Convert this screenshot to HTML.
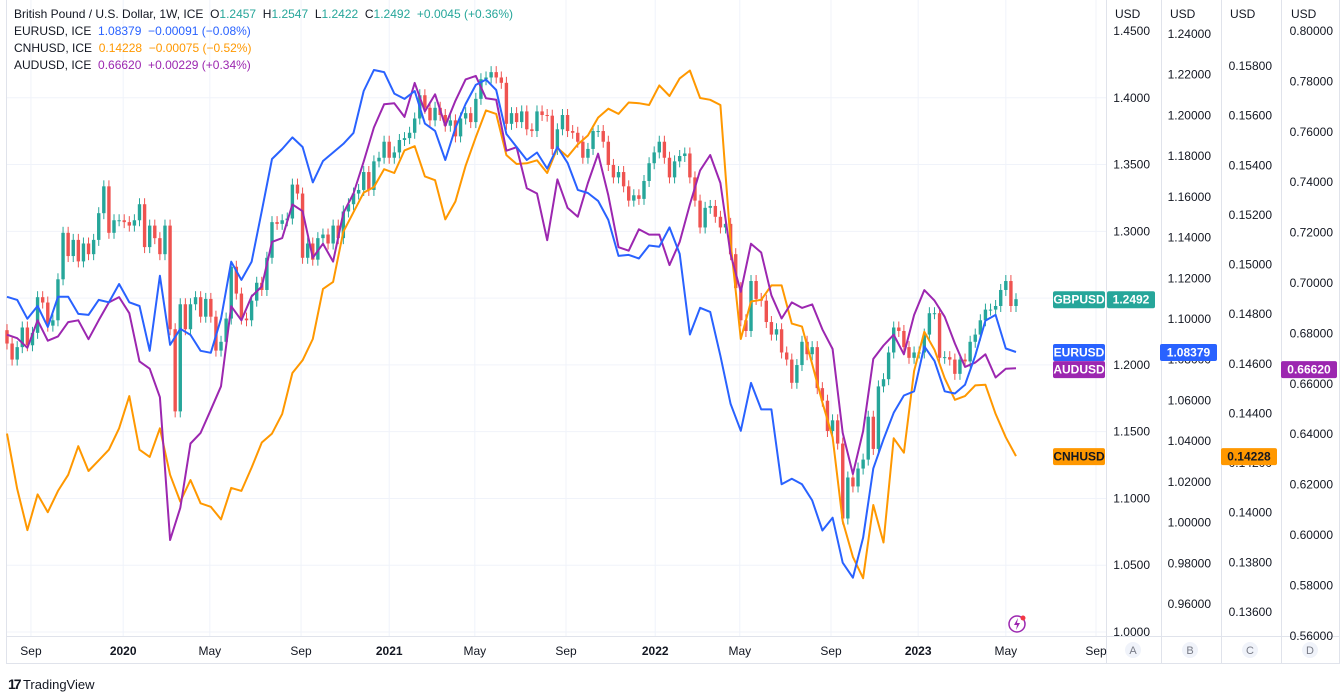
<!DOCTYPE html>
<html><head><meta charset="utf-8">
<style>
html,body{margin:0;padding:0;background:#fff;width:1344px;height:692px;overflow:hidden;font-family:"Liberation Sans",sans-serif;}
svg{position:absolute;left:0;top:0;}
.lg{position:absolute;left:14px;font-size:12px;color:#131722;white-space:pre;}
</style></head><body>
<svg id="c" width="1344" height="692"></svg>
<div class="lg" style="top:7px">British Pound / U.S. Dollar, 1W, ICE  O<span style="color:#26a69a">1.2457</span>  H<span style="color:#26a69a">1.2547</span>  L<span style="color:#26a69a">1.2422</span>  C<span style="color:#26a69a">1.2492</span>  <span style="color:#26a69a">+0.0045 (+0.36%)</span></div>
<div class="lg" style="top:24px">EURUSD, ICE  <span style="color:#2962ff">1.08379  −0.00091 (−0.08%)</span></div>
<div class="lg" style="top:41px">CNHUSD, ICE  <span style="color:#ff9800">0.14228  −0.00075 (−0.52%)</span></div>
<div class="lg" style="top:58px">AUDUSD, ICE  <span style="color:#9c27b0">0.66620  +0.00229 (+0.34%)</span></div>
<div style="position:absolute;left:8px;top:676px;font-size:13px;color:#131722"><b style="font-size:14px;letter-spacing:-2px">17</b> TradingView</div>
<script>
const gbpOpen0 = 1.2260;
const gbpClose = [1.2160,1.2040,1.2133,1.2280,1.2147,1.2240,1.2507,1.2467,1.2294,1.2334,1.2641,1.2989,1.2815,1.2936,1.2775,1.2909,1.2829,1.2936,1.3136,1.3337,1.2989,1.3083,1.3083,1.3069,1.3043,1.3083,1.3203,1.2882,1.3043,1.2949,1.2829,1.3043,1.2267,1.1652,1.2454,1.2267,1.2454,1.2507,1.2361,1.2494,1.2361,1.2107,1.2173,1.2347,1.2735,1.2534,1.2347,1.2334,1.2481,1.2615,1.2561,1.2802,1.3069,
1.3056,1.3083,1.3096,1.3350,1.3283,1.2802,1.2909,1.2788,1.2949,1.2976,1.2909,1.3043,1.2949,1.3149,1.3203,1.3283,1.3310,1.3444,1.3310,1.3524,1.3551,1.3671,1.3551,1.3591,1.3684,1.3698,1.3738,1.3845,1.4019,1.3925,1.3831,1.3925,1.3871,1.3791,1.3831,1.3711,1.3845,1.3885,1.3818,1.3992,1.4139,1.4152,1.4192,1.4152,1.4112,1.3805,1.3885,1.3818,1.3898,1.3764,1.3751,1.3898,1.3871,1.3866,
1.3617,1.3764,1.3871,1.3751,1.3738,1.3671,1.3551,1.3617,1.3751,1.3751,1.3671,1.3497,1.3404,1.3444,1.3337,1.3230,1.3270,1.3243,1.3377,1.3510,1.3591,1.3671,1.3551,1.3404,1.3524,1.3564,1.3583,1.3404,1.3230,1.3029,1.3176,1.3190,1.3109,1.3029,1.3056,1.2829,1.2575,1.2334,1.2254,1.2628,1.2494,1.2481,1.2321,1.2227,1.2267,1.2093,1.2040,1.1866,1.1999,1.2173,1.2080,1.2133,1.1826,
1.1732,1.1505,1.1585,1.1411,1.0850,1.1157,1.1090,1.1224,1.1291,1.1612,1.1371,1.1839,1.1893,1.2093,1.2280,1.2254,1.2133,1.2053,1.2093,1.2093,1.2227,1.2387,1.2387,1.2053,1.2058,1.2040,1.1933,1.2040,1.2026,1.2173,1.2227,1.2334,1.2414,1.2414,1.2441,1.2561,1.2628,1.2441,1.2492];
const eurValues = [1.1109,1.1094,1.1001,1.1064,1.0961,1.1109,1.1109,1.1025,1.1020,1.1094,1.1082,1.1172,1.1082,1.1064,1.0844,1.1212,1.0873,1.0952,1.0922,1.0844,1.0834,1.1001,1.1281,1.1192,1.1281,1.1531,1.1786,1.1835,1.1892,1.1845,1.1671,1.1776,1.1818,1.1860,1.1914,1.2120,1.2223,1.2213,1.2107,1.2081,1.2120,1.1960,1.1924,1.1781,1.1938,1.2056,1.2150,1.2176,1.2125,1.1909,1.1845,1.1781,1.1818,1.1739,1.1845,1.1767,1.1634,1.1619,1.1580,1.1487,1.1310,1.1315,1.1297,1.1361,1.1355,1.1450,1.1320,1.0924,1.1055,1.1035,1.0819,1.0583,1.0451,1.0686,1.0556,1.0556,1.0188,1.0215,1.0188,1.0109,0.9961,1.0024,0.9803,0.9729,0.9925,1.0266,1.0409,1.0539,1.0624,1.0645,1.0866,1.0794,1.0645,1.0634,1.0677,1.0819,1.0992,1.1020,1.0855,1.0838];
const cnhValues = [0.14319,0.14096,0.13930,0.14074,0.14002,0.14088,0.14153,0.14268,0.14168,0.14211,0.14254,0.14340,0.14470,0.14254,0.14225,0.14340,0.14153,0.14045,0.14132,0.14038,0.14024,0.13973,0.14100,0.14088,0.14182,0.14283,0.14319,0.14398,0.14563,0.14614,0.14700,0.14902,0.14930,0.15132,0.15211,0.15290,0.15312,0.15384,0.15369,0.15460,0.15477,0.15355,0.15340,0.15182,0.15254,0.15398,0.15513,0.15621,0.15607,0.15441,0.15405,0.15408,0.15420,0.15369,0.15470,0.15434,0.15484,0.15520,0.15592,0.15628,0.15607,0.15653,0.15650,0.15643,0.15722,0.15679,0.15750,0.15782,0.15671,0.15664,0.15643,0.15089,0.14700,0.14851,0.14858,0.14916,0.14916,0.14762,0.14750,0.14599,0.14444,0.14304,0.13966,0.13822,0.13736,0.14031,0.13880,0.14300,0.14242,0.14571,0.14729,0.14657,0.14542,0.14455,0.14470,0.14513,0.14516,0.14398,0.14304,0.14228];
const audValues = [0.6795,0.6781,0.6743,0.6852,0.6771,0.6788,0.6845,0.6852,0.6777,0.6852,0.6923,0.6944,0.6880,0.6689,0.6660,0.6547,0.5980,0.6108,0.6363,0.6405,0.6497,0.6590,0.6908,0.6852,0.6947,0.6986,0.7163,0.7178,0.7312,0.7285,0.7100,0.7156,0.7085,0.7277,0.7355,0.7482,0.7617,0.7709,0.7713,0.7659,0.7794,0.7681,0.7749,0.7624,0.7723,0.7808,0.7822,0.7733,0.7727,0.7525,0.7539,0.7376,0.7355,0.7170,0.7411,0.7298,0.7263,0.7397,0.7513,0.7348,0.7142,0.7128,0.7213,0.7192,0.7192,0.7071,0.7163,0.7312,0.7447,0.7508,0.7397,0.7114,0.6965,0.7156,0.7121,0.6951,0.6859,0.6923,0.6901,0.6915,0.6816,0.6738,0.6405,0.6242,0.6412,0.6699,0.6752,0.6795,0.6717,0.6873,0.6972,0.6930,0.6866,0.6760,0.6667,0.6684,0.6717,0.6625,0.6660,0.6662];
const gbpTicks = [1.45,1.40,1.35,1.30,1.25,1.20,1.15,1.10,1.05,1.00];
const eurTicks = [1.24,1.22,1.20,1.18,1.16,1.14,1.12,1.10,1.08,1.06,1.04,1.02,1.00,0.98,0.96];
const cnhTicks = [0.158,0.156,0.154,0.152,0.150,0.148,0.146,0.144,0.142,0.140,0.138,0.136];
const audTicks = [0.80,0.78,0.76,0.74,0.72,0.70,0.68,0.66,0.64,0.62,0.60,0.58,0.56];
const timeLabels = ["Sep","2020","May","Sep","2021","May","Sep","2022","May","Sep","2023","May","Sep"];
const timeWeeks = [4.7,22.8,39.8,57.7,75,91.8,109.7,127.2,143.8,161.7,178.8,196,213.7];

const xOf = i => 7 + i*5.096;
const gbpY = v => 31 + (1.45 - v)*1335.6;
const eurY = v => 34 + (1.24 - v)*2035.7;
const cnhY = v => 66 + (0.158 - v)*24818;
const audY = v => 283 + (0.70 - v)*2520;
const lineWeek = (k, n) => k === n-1 ? 198 : 2*k;

const NS = "http://www.w3.org/2000/svg";
const svg = document.getElementById('c');
function mk(tag, attrs, parent){ const e=document.createElementNS(NS,tag); for(const k in attrs) e.setAttribute(k,attrs[k]); (parent||svg).appendChild(e); return e; }

// grid
const grid = mk('g',{});


gbpTicks.forEach(v=>{ if(v<1.45){ const l=mk('line',{x1:7,x2:1106,y1:gbpY(v),y2:gbpY(v),stroke:'#f0f3fa','stroke-width':1},grid);
 
  }});
timeWeeks.forEach(w=>{ const l=mk('line',{x1:xOf(w),x2:xOf(w),y1:0,y2:636,stroke:'#f0f3fa','stroke-width':1},grid);
 
  });

// frame
mk('line',{x1:6.5,x2:6.5,y1:0,y2:663,stroke:'#e0e3eb'});
mk('line',{x1:1106.5,x2:1106.5,y1:0,y2:663,stroke:'#e0e3eb'});
[1161.5,1221.5,1281.5,1339.5].forEach(x=>mk('line',{x1:x,x2:x,y1:0,y2:663,stroke:'#e0e3eb'}));
mk('line',{x1:6,x2:1340,y1:636.5,y2:636.5,stroke:'#e0e3eb'});
mk('line',{x1:6,x2:1340,y1:663.5,y2:663.5,stroke:'#e0e3eb'});

// candles
const cg = mk('g',{});


gbpClose.forEach((c,i)=>{
  const o = i===0 ? gbpOpen0 : gbpClose[i-1];
  const up = c>=o, col = up?'#26a69a':'#ef5350';
  const x = xOf(i), y1=gbpY(Math.max(o,c)), y2=gbpY(Math.min(o,c));
  const w = mk('line',{x1:x,x2:x,y1:y1-6,y2:y2+6,stroke:col,'stroke-width':1},cg);
  
  
  const b = mk('rect',{x:x-1.7,y:y1,width:3.4,height:Math.max(1,y2-y1),fill:col},cg);
  
  
});

function drawLine(vals, yf, col, name){
  const pts = vals.map((v,k)=>xOf(lineWeek(k,vals.length)).toFixed(1)+','+yf(v).toFixed(1)).join(' ');
  const p = mk('polyline',{points:pts,fill:'none',stroke:col,'stroke-width':2,'stroke-linejoin':'round'});
  
  
}
drawLine(cnhValues, cnhY, '#ff9800', 'cnhusd-line');
drawLine(audValues, audY, '#9c27b0', 'audusd-line');
drawLine(eurValues, eurY, '#2962ff', 'eurusd-line');

// axes labels
function axis(ticks, yf, xRight, dec, name){
  const g = mk('g',{});
  
  
  ticks.forEach(v=>{ const y=yf(v); if(y<22||y>640) return;
    const t = mk('text',{x:xRight,y:y+4,'text-anchor':'end','font-size':12,fill:'#131722','font-family':'Liberation Sans'},g);
    t.textContent = v.toFixed(dec);
    
    
  });
}
axis(gbpTicks, gbpY, 1150, 4, 'gbp-price-axis');
axis(eurTicks, eurY, 1211, 5, 'eur-price-axis');
axis(cnhTicks, cnhY, 1272, 5, 'cnh-price-axis');
axis(audTicks, audY, 1333, 5, 'aud-price-axis');
[1115,1170,1230,1291].forEach(x=>{ const t=mk('text',{x:x,y:18,'font-size':12,fill:'#131722'}); t.textContent='USD';
  
   });

// time axis
timeLabels.forEach((s,i)=>{ const t=mk('text',{x:xOf(timeWeeks[i]),y:655,'text-anchor':'middle','font-size':12,fill:'#131722','font-weight':/^\d/.test(s)?'bold':'normal'});
  t.textContent=s;
  
   });
[['A',1133],['B',1190],['C',1250],['D',1310]].forEach(([s,x])=>{
  const c=mk('circle',{cx:x,cy:650,r:8,fill:'#f0f3fa'});
  
  
  const t=mk('text',{x:x,y:654,'text-anchor':'middle','font-size':11,fill:'#787b86'}); t.textContent=s;
  
  
});

// tags
function tag(x,w,y,bg,fg,txt,name){
  const r=mk('rect',{x:x,y:y-8,width:w,height:17,rx:2,fill:bg});
  
  
  const t=mk('text',{x:x+w/2,y:y+4.5,'text-anchor':'middle','font-size':12,'font-weight':'bold',fill:fg}); t.textContent=txt;
  
  
}
const gL=gbpClose[gbpClose.length-1], eL=eurValues[eurValues.length-1], cL=cnhValues[cnhValues.length-1], aL=audValues[audValues.length-1];
tag(1053,52,gbpY(gL),'#26a69a','#fff','GBPUSD','gbpusd-name-tag');
tag(1107,48,gbpY(gL),'#26a69a','#fff',gL.toFixed(4),'gbpusd-price-tag');
tag(1053,52,eurY(eL),'#2962ff','#fff','EURUSD','eurusd-name-tag');
tag(1160,57,eurY(eL),'#2962ff','#fff','1.08379','eurusd-price-tag');
tag(1053,52,audY(aL)+1,'#9c27b0','#fff','AUDUSD','audusd-name-tag');
tag(1281,56,audY(aL)+1,'#9c27b0','#fff',aL.toFixed(5)+'0'.slice(0,0),'audusd-price-tag');
tag(1053,52,cnhY(cL),'#ff9800','#131722','CNHUSD','cnhusd-name-tag');
tag(1221,56,cnhY(cL),'#ff9800','#131722',cL.toFixed(5),'cnhusd-price-tag');

// lightning icon
const ic=mk('circle',{cx:1017,cy:624,r:8,fill:'none',stroke:'#9c27b0','stroke-width':1.5});


const bolt=mk('path',{d:'M1018 618 L1014 625 L1017 625 L1016 630 L1020 623 L1017 623 Z',fill:'#9c27b0'});


const dot=mk('circle',{cx:1023,cy:618,r:2.5,fill:'#f23645'});


</script>
</body></html>
